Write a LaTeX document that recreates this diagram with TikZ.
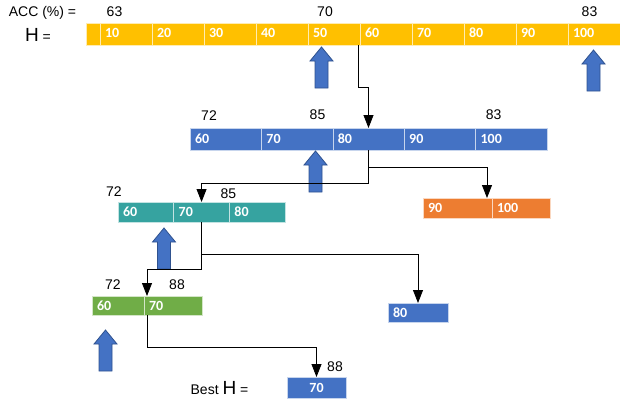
\documentclass[tikz,border=0pt]{standalone}
\usepackage{fontspec}
\setmainfont{Liberation Sans}
\newfontfamily\cellfont{Carlito}
\usetikzlibrary{calc,positioning,arrows.meta}
\definecolor{yellowbar}{HTML}{FFC000}
\definecolor{bluebar}{HTML}{4472C4}
\definecolor{tealbar}{HTML}{36A3A0}
\definecolor{orangebar}{HTML}{ED7D31}
\definecolor{greenbar}{HTML}{70AD47}
\definecolor{arrowline}{HTML}{2F528F}
\tikzset{
	uparr/.pic={
		\draw[pic actions] (0,0) -- (11.5,14) -- (6.5,14) -- (6.5,41) -- (-6.5,41) -- (-6.5,14) -- (-11.5,14) -- cycle;
	},
	upblk/.style={fill=bluebar, draw=arrowline, line width=0.8pt},
	cell/.style={draw=white!70!#1, fill=#1, line width=0.6pt, text=white, font=\cellfont\bfseries\fontsize{14}{14}\selectfont, inner xsep=5pt, inner ysep=0pt, outer sep=0pt, align=left, anchor=north west},
	ycell/.style={cell=yellowbar, minimum height=22, text width=42pt, text depth=3pt},
	bcell/.style={cell=bluebar, minimum height=22, text width=61.4pt},
	tcell/.style={cell=tealbar, minimum height=20, text width=45.7pt},
	ocell/.style={cell=orangebar, minimum height=20},
	gcell/.style={cell=greenbar, minimum height=19},
	acc/.style={inner sep=0pt, font=\fontsize{14}{16}\selectfont},
	conn/.style={line width=0.8pt, -{Triangle[length=13pt,width=10pt]}}
}
\begin{document}
\begin{tikzpicture}[x=1pt,y=-1pt]
		\useasboundingbox (0,0) rectangle (620,402);

		\node[acc, anchor=base] (acclbl) at (42.5,16.5) {ACC (\%) =};
		\node[acc, anchor=base] (hlbl) at (38,41.5) {{\fontsize{19}{19}\selectfont H} =};

		\node[ycell, text width=4pt] (y0) at (86,23) {};
		\node[ycell, right=0pt of y0] (y10) {10};
		\node[ycell, right=0pt of y10] (y20) {20};
		\node[ycell, right=0pt of y20] (y30) {30};
		\node[ycell, right=0pt of y30] (y40) {40};
		\node[ycell, right=0pt of y40] (y50) {50};
		\node[ycell, right=0pt of y50] (y60) {60};
		\node[ycell, right=0pt of y60] (y70) {70};
		\node[ycell, right=0pt of y70] (y80) {80};
		\node[ycell, right=0pt of y80] (y90) {90};
		\node[ycell, right=0pt of y90] (y100) {100};
		\node[acc] (ya63) at ($(y10.north west)+(14.5,-11)$) {63};
		\node[acc] (ya70) at ($(y50.north west)+(17,-11)$) {70};
		\node[acc] (ya83) at ($(y100.north west)+(21.5,-11)$) {83};
		\pic[upblk] (u50) at (321.5,47) {uparr};
		\pic[upblk] (u100) at (593.5,50) {uparr};

		\node[bcell] (b60) at (190,128) {60};
		\node[bcell, right=0pt of b60] (b70) {70};
		\node[bcell, right=0pt of b70] (b80) {80};
		\node[bcell, right=0pt of b80] (b90) {90};
		\node[bcell, right=0pt of b90] (b100) {100};
		\node[acc] (ba72) at ($(b60.north west)+(19,-12)$) {72};
		\node[acc] (ba85) at ($(b70.north east)+(-15.3,-13)$) {85};
		\node[acc] (ba83) at ($(b100.north west)+(18,-13)$) {83};
		\draw[conn] ([xshift=-2pt]y50.south east) -- ++(0,42) -| (b80.north);
		\pic[upblk] (u70) at (315.5,151) {uparr};

		\node[tcell] (t60) at (118,202) {60};
		\node[tcell, right=0pt of t60] (t70) {70};
		\node[tcell, right=0pt of t70] (t80) {80};
		\node[acc] (ta72) at ($(t60.north west)+(-4,-10)$) {72};
		\node[acc] (ta85) at ($(t80.north west)+(-1,-8)$) {85};
		\draw[conn] (b80.south) -- ++(0,33) -| (t70.north);
		\pic[upblk] (u60) at (164,228) {uparr};

		\node[ocell, text width=59pt] (o90) at (423,198) {90};
		\node[ocell, text width=48pt, right=0pt of o90] (o100) {100};
		\draw[conn] ($(b80.south)+(0,17)$) -| ([xshift=-5pt]o90.north east);

		\node[gcell, text width=42pt] (g60) at (92,296) {60};
		\node[gcell, text width=48pt, right=0pt of g60] (g70) {70};
		\node[acc] (ga72) at ($(g60.north west)+(21,-11)$) {72};
		\node[acc] (ga88) at ($(g70.north west)+(33,-11)$) {88};
		\draw[conn] (t70.south) -- ++(0,47) -| ([xshift=3pt]g70.north west);
		\pic[upblk] (u60b) at (105.5,330) {uparr};

		\node[cell=bluebar, minimum height=19, text width=50pt] (s80) at (388,303) {80};
		\draw[conn] ($(t70.south)+(0,32)$) -| (s80.north);

		\node[cell=bluebar, minimum height=21, text width=49pt, align=center] (best) at (287,377) {70};
		\node[acc] (besta88) at ($(best.north east)+(-11,-10)$) {88};
		\node[acc, anchor=base] (bestlbl) at (219.5,394) {Best {\fontsize{19}{19}\selectfont H} =};
		\draw[conn] ([xshift=3pt]g70.south west) -- ++(0,32) -| (best.north);
	\end{tikzpicture}
\end{document}
